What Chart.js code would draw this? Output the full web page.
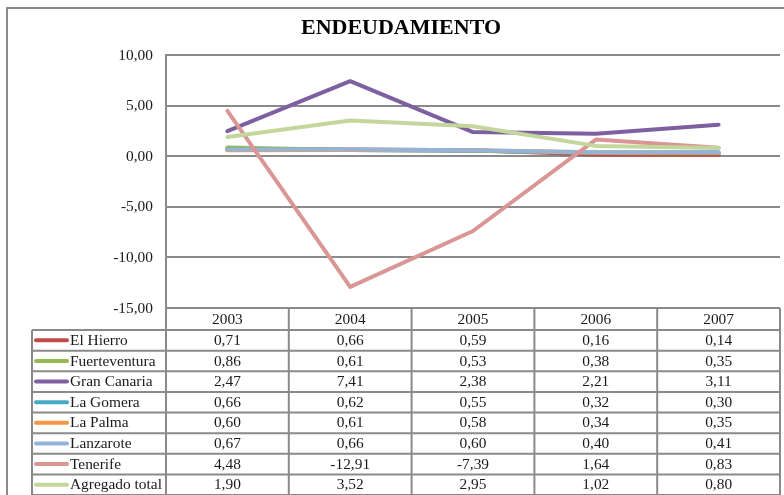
<!DOCTYPE html>
<html lang="es">
<head>
  <meta charset="UTF-8" />
  <title>Endeudamiento</title>
  <script src="https://cdn.jsdelivr.net/npm/chart.js"></script>
  <style>
    html, body { margin: 0; padding: 0; background: #fff; }
    #wrap { position: relative; width: 784px; height: 495px; }
  </style>
</head>
<body>
  <div id="wrap"><canvas id="deuda" width="784" height="495"></canvas></div>

  <script>
    const years = ['2003', '2004', '2005', '2006', '2007'];
    const islands = ['El Hierro', 'Fuerteventura', 'Gran Canaria', 'La Gomera', 'La Palma', 'Lanzarote', 'Tenerife', 'Agregado total'];

    const elHierro      = [0.71, 0.66, 0.59, 0.16, 0.14];
    const fuerteventura = [0.86, 0.61, 0.53, 0.38, 0.35];
    const granCanaria   = [2.47, 7.41, 2.38, 2.21, 3.11];
    const laGomera      = [0.66, 0.62, 0.55, 0.32, 0.30];
    const laPalma       = [0.60, 0.61, 0.58, 0.34, 0.35];
    const lanzarote     = [0.67, 0.66, 0.60, 0.40, 0.41];
    const tenerife      = [4.48, -12.91, -7.39, 1.64, 0.83];
    const agregado      = [1.90, 3.52, 2.95, 1.02, 0.80];

    const yTicks = [10, 5, 0, -5, -10, -15];

    const series = [elHierro, fuerteventura, granCanaria, laGomera, laPalma, lanzarote, tenerife, agregado];
    const colors = ['#BE4B48', '#98B954', '#7D60A0', '#46AAC5', '#F79646', '#95B3D7', '#D99694', '#C3D69B'];

    const GRAY = '#8a8a8a';
    const SERIF = '"Liberation Serif", "Times New Roman", serif';
    const SX = 1.1; // the original text is a bit wider than Times
    const fmt = v => v.toFixed(2).replace('.', ',');

    function wideText(c, txt, x, y, align) {
      c.save();
      c.translate(x, y);
      c.scale(SX, 1);
      c.textAlign = align;
      c.fillText(txt, 0, 0);
      c.restore();
    }

    // frame, title, y labels and the data table under the plot
    const tablePlugin = {
      id: 'tablePlugin',
      afterDraw(chart) {
        const c = chart.ctx;
        const area = chart.chartArea;
        const xs = chart.scales.x;
        const ys = chart.scales.y;
        c.save();

        // outer frame
        c.strokeStyle = GRAY;
        c.lineWidth = 2;
        c.beginPath();
        c.moveTo(7, 495);
        c.lineTo(7, 8);
        c.lineTo(784, 8);
        c.stroke();

        // title
        c.fillStyle = '#000';
        c.font = 'bold 20px ' + SERIF;
        c.textBaseline = 'middle';
        wideText(c, 'ENDEUDAMIENTO', 401, 29, 'center');

        c.font = '14px ' + SERIF;
        c.fillStyle = '#1a1a1a';
        // y axis labels
        yTicks.forEach(v => {
          wideText(c, fmt(v), area.left - 13, ys.getPixelForValue(v) + 1, 'right');
        });

        // column edges from the category scale
        const edges = [area.left];
        for (let i = 0; i < years.length - 1; i++) {
          edges.push((xs.getPixelForValue(i) + xs.getPixelForValue(i + 1)) / 2);
        }
        edges.push(area.right);

        const top = area.bottom;
        const headH = 22;
        const rowH = (495 - top - headH) / islands.length;
        const legLeft = 32;

        c.strokeStyle = GRAY;
        c.lineWidth = 2;
        edges.forEach(x => {
          c.beginPath();
          c.moveTo(x, top);
          c.lineTo(x, 495);
          c.stroke();
        });
        c.beginPath();
        c.moveTo(legLeft, top + headH);
        c.lineTo(legLeft, 495);
        c.stroke();
        for (let r = 0; r <= islands.length; r++) {
          const y = top + headH + r * rowH;
          c.beginPath();
          c.moveTo(legLeft, y);
          c.lineTo(area.right, y);
          c.stroke();
        }

        years.forEach((yr, i) => {
          wideText(c, yr, xs.getPixelForValue(i), top + headH / 2 + 1, 'center');
        });

        islands.forEach((name, r) => {
          const cy = top + headH + r * rowH + rowH / 2;
          // legend swatch
          c.strokeStyle = colors[r];
          c.lineWidth = 4;
          c.lineCap = 'round';
          c.beginPath();
          c.moveTo(36, cy);
          c.lineTo(67, cy);
          c.stroke();
          wideText(c, name, 70, cy + 1, 'left');
          series[r].forEach((v, i) => {
            wideText(c, fmt(v), xs.getPixelForValue(i), cy + 1, 'center');
          });
        });

        c.restore();
      }
    };

    const datasets = islands.map((name, i) => ({
      label: name,
      data: series[i],
      borderColor: colors[i],
      backgroundColor: colors[i],
      borderWidth: 4,
      pointRadius: 0,
      tension: 0,
      fill: false,
      borderJoinStyle: 'round',
      borderCapStyle: 'round',
      order: islands.length - i
    }));

    new Chart(document.getElementById('deuda'), {
      type: 'line',
      data: { labels: years, datasets: datasets },
      options: {
        responsive: false,
        animation: false,
        layout: { padding: { top: 55, bottom: 187, left: 0, right: 4 } },
        plugins: {
          legend: { display: false },
          title: { display: false },
          tooltip: { enabled: false }
        },
        scales: {
          x: {
            offset: true,
            grid: { display: false, drawTicks: false },
            border: { display: false },
            ticks: { display: false }
          },
          y: {
            min: -15,
            max: 10,
            afterFit: s => { s.width = 166; },
            afterBuildTicks: s => { s.ticks = yTicks.map(v => ({ value: v })); },
            grid: { color: GRAY, lineWidth: 2, drawTicks: false },
            border: { display: true, color: GRAY, width: 2 },
            ticks: { display: false }
          }
        }
      },
      plugins: [tablePlugin]
    });
  </script>
</body>
</html>
